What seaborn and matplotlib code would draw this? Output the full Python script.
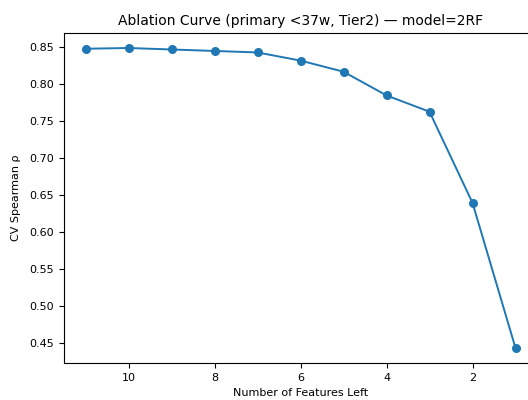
import numpy as np
import pandas as pd
import matplotlib.pyplot as plt
import seaborn as sns

# Values
features_left = [11, 10, 9, 8, 7, 6, 5, 4, 3, 2, 1]
cv_spearman = [0.847, 0.848, 0.846, 0.844, 0.842, 0.831, 0.816, 0.784, 0.762, 0.639, 0.443]

df = pd.DataFrame({"features": features_left, "rho": cv_spearman})

fig = plt.figure(figsize=(5.28, 4.0), dpi=100)
# right edge of the axes sits slightly outside the canvas, like the reference crop
ax = fig.add_axes([64 / 528, 37 / 400, 473 / 528, 330 / 400])

sns.lineplot(data=df, x="features", y="rho", marker="o", color="#1f77b4",
             markersize=6.5, markeredgewidth=0, linewidth=1.4, ax=ax)

ax.invert_xaxis()
ax.set_yticks([0.45, 0.50, 0.55, 0.60, 0.65, 0.70, 0.75, 0.80, 0.85])
ax.set_xticks([10, 8, 6, 4, 2])
ax.tick_params(labelsize=8)
ax.set_xlabel("Number of Features Left", fontsize=8)
ax.set_ylabel("CV Spearman ρ", fontsize=8, labelpad=6)
ax.set_title("Ablation Curve (primary <37w, Tier2) — model=2RF", fontsize=10)

fig.savefig("out.png", dpi=100)
